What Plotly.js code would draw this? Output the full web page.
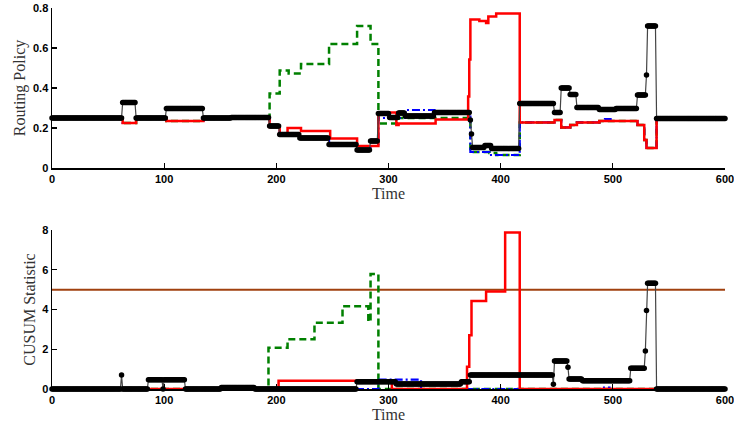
<!DOCTYPE html>
<html>
<head>
<meta charset="utf-8">
<script src="https://cdn.plot.ly/plotly-3.0.1.min.js"></script>
<style>html,body{margin:0;padding:0;background:#fff;}#chart{width:734px;height:426px;}</style>
</head>
<body>
<div id="chart"></div>
<script>
// ---------- Data (step change times and held values) ----------
const T_END = 600;
const xTicks = [0, 100, 200, 300, 400, 500, 600];
const topYTicks = [0, 0.2, 0.4, 0.6, 0.8];
const botYTicks = [0, 2, 4, 6, 8];
const threshold = 5;

// Top: Routing Policy
const blackTopT = [0, 63, 75, 102, 135, 160, 194, 203, 221, 247, 272, 284, 291, 301, 309, 315, 341, 373, 374, 375, 386, 392, 417, 448, 454, 462, 468, 488, 503, 522, 530, 531, 539];
const blackTopV = [0.25, 0.327, 0.25, 0.298, 0.25, 0.253, 0.21, 0.168, 0.15, 0.118, 0.09, 0.135, 0.272, 0.253, 0.275, 0.26, 0.277, 0.24, 0.17, 0.103, 0.113, 0.097, 0.323, 0.277, 0.40, 0.368, 0.303, 0.293, 0.297, 0.365, 0.465, 0.71, 0.248];

const redTopT = [0, 63, 75, 102, 135, 194, 203, 210, 222, 248, 272, 291, 307, 309, 342, 371, 372, 373, 381, 387, 389, 396, 417, 448, 454, 462, 468, 488, 522, 528, 530, 539];
const redTopV = [0.25, 0.225, 0.25, 0.235, 0.25, 0.205, 0.168, 0.20, 0.185, 0.147, 0.11, 0.278, 0.215, 0.223, 0.243, 0.357, 0.543, 0.743, 0.735, 0.725, 0.757, 0.773, 0.228, 0.24, 0.203, 0.215, 0.228, 0.235, 0.215, 0.14, 0.10, 0.25];

const greenTopT = [0, 63, 75, 102, 135, 194, 203, 211, 222, 247, 272, 284, 291, 309, 373, 390, 396, 417, 448, 454, 462, 468, 488, 522, 528, 530, 539];
const greenTopV = [0.25, 0.225, 0.25, 0.235, 0.25, 0.373, 0.487, 0.473, 0.52, 0.62, 0.71, 0.62, 0.223, 0.25, 0.08, 0.075, 0.065, 0.228, 0.24, 0.203, 0.215, 0.228, 0.235, 0.215, 0.14, 0.10, 0.25];

const blueTopT = [0, 63, 75, 102, 135, 194, 203, 221, 247, 272, 284, 291, 315, 341, 373, 390, 417, 448, 454, 462, 468, 488, 493, 498, 522, 528, 530, 539];
const blueTopV = [0.25, 0.225, 0.25, 0.235, 0.25, 0.21, 0.168, 0.15, 0.118, 0.09, 0.11, 0.25, 0.29, 0.27, 0.08, 0.065, 0.228, 0.24, 0.203, 0.215, 0.228, 0.235, 0.245, 0.235, 0.215, 0.14, 0.10, 0.25];

// Bottom: CUSUM Statistic
const blackBotT = [0, 62, 63, 86, 99, 100, 119, 151, 181, 272, 307, 365, 373, 447, 448, 460, 461, 473, 516, 529, 530, 531, 539];
const blackBotV = [0, 0.70, 0, 0.47, 0, 0.47, 0, 0.07, 0, 0.37, 0.25, 0.37, 0.70, 0.24, 1.41, 1.09, 0.50, 0.42, 1.04, 1.91, 3.95, 5.32, 0];

const redBotT = [0, 202, 303, 370, 372, 374, 387, 404, 417];
const redBotV = [0, 0.42, 0, 1.12, 2.7, 4.43, 4.9, 7.88, 0];

const greenBotT = [0, 193, 210, 234, 259, 282, 284, 291];
const greenBotV = [0, 2.08, 2.5, 3.33, 4.17, 3.39, 5.79, 0];

const blueBotT = [0, 291, 329, 490, 497];
const blueBotV = [0, 0.47, 0, 0.07, 0];

// ---------- Helpers ----------
function heldSamples(T, V) {
  const xs = [], ys = [];
  let i = 0;
  for (let t = 0; t <= T_END; t++) {
    while (i + 1 < T.length && T[i + 1] <= t) i++;
    xs.push(t); ys.push(V[i]);
  }
  return {x: xs, y: ys};
}
function stepLine(T, V, color, dash, width, xa, ya) {
  return {
    x: T.concat([T_END]), y: V.concat([V[V.length - 1]]),
    xaxis: xa, yaxis: ya, mode: 'lines', type: 'scatter',
    line: {shape: 'hv', color: color, width: width, dash: dash},
    hoverinfo: 'skip', showlegend: false, cliponaxis: false
  };
}
function blackDots(T, V, xa, ya) {
  const s = heldSamples(T, V);
  return {
    x: s.x, y: s.y, xaxis: xa, yaxis: ya, type: 'scatter', mode: 'lines+markers',
    line: {color: '#444', width: 1.2},
    marker: {color: '#000', size: 5.5, line: {width: 0}},
    hoverinfo: 'skip', showlegend: false, cliponaxis: false
  };
}

const GREEN = '#008000', BLUE = '#0000FF', RED = '#FF0000';
const GDASH = '7px,4px', BDASH = '8px,3px,2px,3px';

const traces = [
  stepLine(greenTopT, greenTopV, GREEN, GDASH, 2.5, 'x', 'y'),
  stepLine(blueTopT, blueTopV, BLUE, BDASH, 2.2, 'x', 'y'),
  stepLine(redTopT, redTopV, RED, 'solid', 2.5, 'x', 'y'),
  blackDots(blackTopT, blackTopV, 'x', 'y'),
  {x: [0, T_END], y: [threshold, threshold], xaxis: 'x2', yaxis: 'y2', type: 'scatter', mode: 'lines',
   line: {color: '#A0400F', width: 2}, hoverinfo: 'skip', showlegend: false, cliponaxis: false},
  stepLine(greenBotT, greenBotV, GREEN, GDASH, 2.5, 'x2', 'y2'),
  stepLine(blueBotT, blueBotV, BLUE, BDASH, 2.2, 'x2', 'y2'),
  stepLine(redBotT, redBotV, RED, 'solid', 2.5, 'x2', 'y2'),
  blackDots(blackBotT, blackBotV, 'x2', 'y2')
];

const tickFont = {family: 'Liberation Sans, Arial, sans-serif', size: 11, color: '#000', weight: 'bold'};
const titleFont = {family: 'Liberation Serif, DejaVu Serif, serif', size: 16, color: '#333'};

function xAxis(anchor) {
  return {
    anchor: anchor, domain: [0, 1], range: [0, 600], tickvals: xTicks, ticktext: xTicks.map(String),
    ticks: 'inside', ticklen: 5, tickwidth: 1.3, tickcolor: '#000', ticklabeloverflow: 'allow',
    showline: true, linecolor: '#000', linewidth: 1.5, showgrid: false, zeroline: false,
    tickfont: tickFont, title: {text: 'Time', font: titleFont, standoff: 2}
  };
}
function yAxis(anchor, domain, range, ticks, title, standoff) {
  return {
    anchor: anchor, domain: domain, range: range, tickvals: ticks, ticktext: ticks.map(String),
    ticks: 'inside', ticklen: 5, tickwidth: 1.3, tickcolor: '#000',
    showline: true, linecolor: '#000', linewidth: 1.5, showgrid: false, zeroline: false,
    tickfont: tickFont, title: {text: title, font: titleFont, standoff: standoff}
  };
}

const layout = {
  width: 734, height: 426,
  margin: {l: 52, r: 9, t: 8, b: 37},
  paper_bgcolor: '#fff', plot_bgcolor: '#fff',
  showlegend: false,
  xaxis: xAxis('y'),
  yaxis: yAxis('x', [0.580, 1.0], [0, 0.8], topYTicks, 'Routing Policy', 3),
  xaxis2: xAxis('y2'),
  yaxis2: yAxis('x2', [0, 0.4173], [0, 8], botYTicks, 'CUSUM Statistic', 2)
};

Plotly.newPlot('chart', traces, layout, {staticPlot: true, displayModeBar: false});
</script>
</body>
</html>
